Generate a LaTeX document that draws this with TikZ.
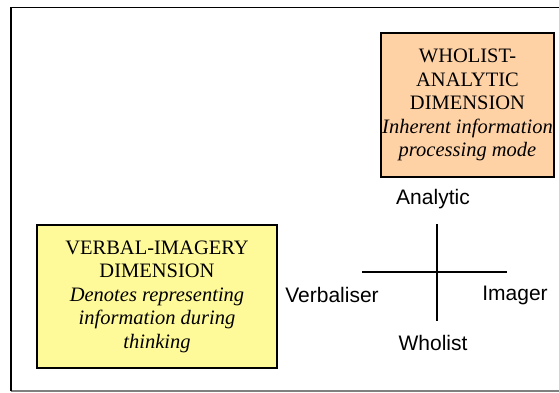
\documentclass[tikz,border=0pt]{standalone}
\usepackage{fontspec}
\setmainfont{Liberation Serif}
\setsansfont{Liberation Sans}
\usetikzlibrary{positioning}

\begin{document}
\begin{tikzpicture}[
    x=1pt, y=-1pt,
    dim/.style={draw, line width=1.5pt, fill=#1, align=center, inner sep=0.5pt,
                font=\fontsize{20.5}{23.5}\selectfont},
    pole/.style={font=\sffamily\fontsize{21}{24}\selectfont, inner sep=1pt},
    axis/.style={line width=1.3pt},
]
\useasboundingbox (0,0) rectangle (559,392);

% Outer frame
\draw[gray, line width=1.3pt] (11,391) -- (565,391);
\draw[line width=1.5pt] (11,391) |- (565,7.5);

% Dimension boxes
\node[dim={orange!35!white}, minimum width=173, minimum height=144] (wa) at (467.5,105)
    {WHOLIST-\\ANALYTIC\\DIMENSION\\\textit{Inherent information}\\\textit{processing mode}};
\node[dim={yellow!40!white}, minimum width=240, minimum height=143] (vi) at (157,296.5)
    {VERBAL-IMAGERY\\DIMENSION\\\textit{Denotes representing}\\\textit{information during}\\\textit{thinking}};

% Axes
\coordinate (atop) at (437,224);
\coordinate (abot) at (437,321);
\coordinate (aleft) at (362,272);
\coordinate (aright) at (507,272);
\draw[axis] (atop) -- (abot);
\draw[axis] (aleft) -- (aright);

% Pole labels
\node[pole] (ana) at (433,199) {Analytic};
\node[pole] (who) at (433,343) {Wholist};
\node[pole] (verb) at (332,295) {Verbaliser};
\node[pole] (img) at (515,295) {Imager};

\end{tikzpicture}
\end{document}
